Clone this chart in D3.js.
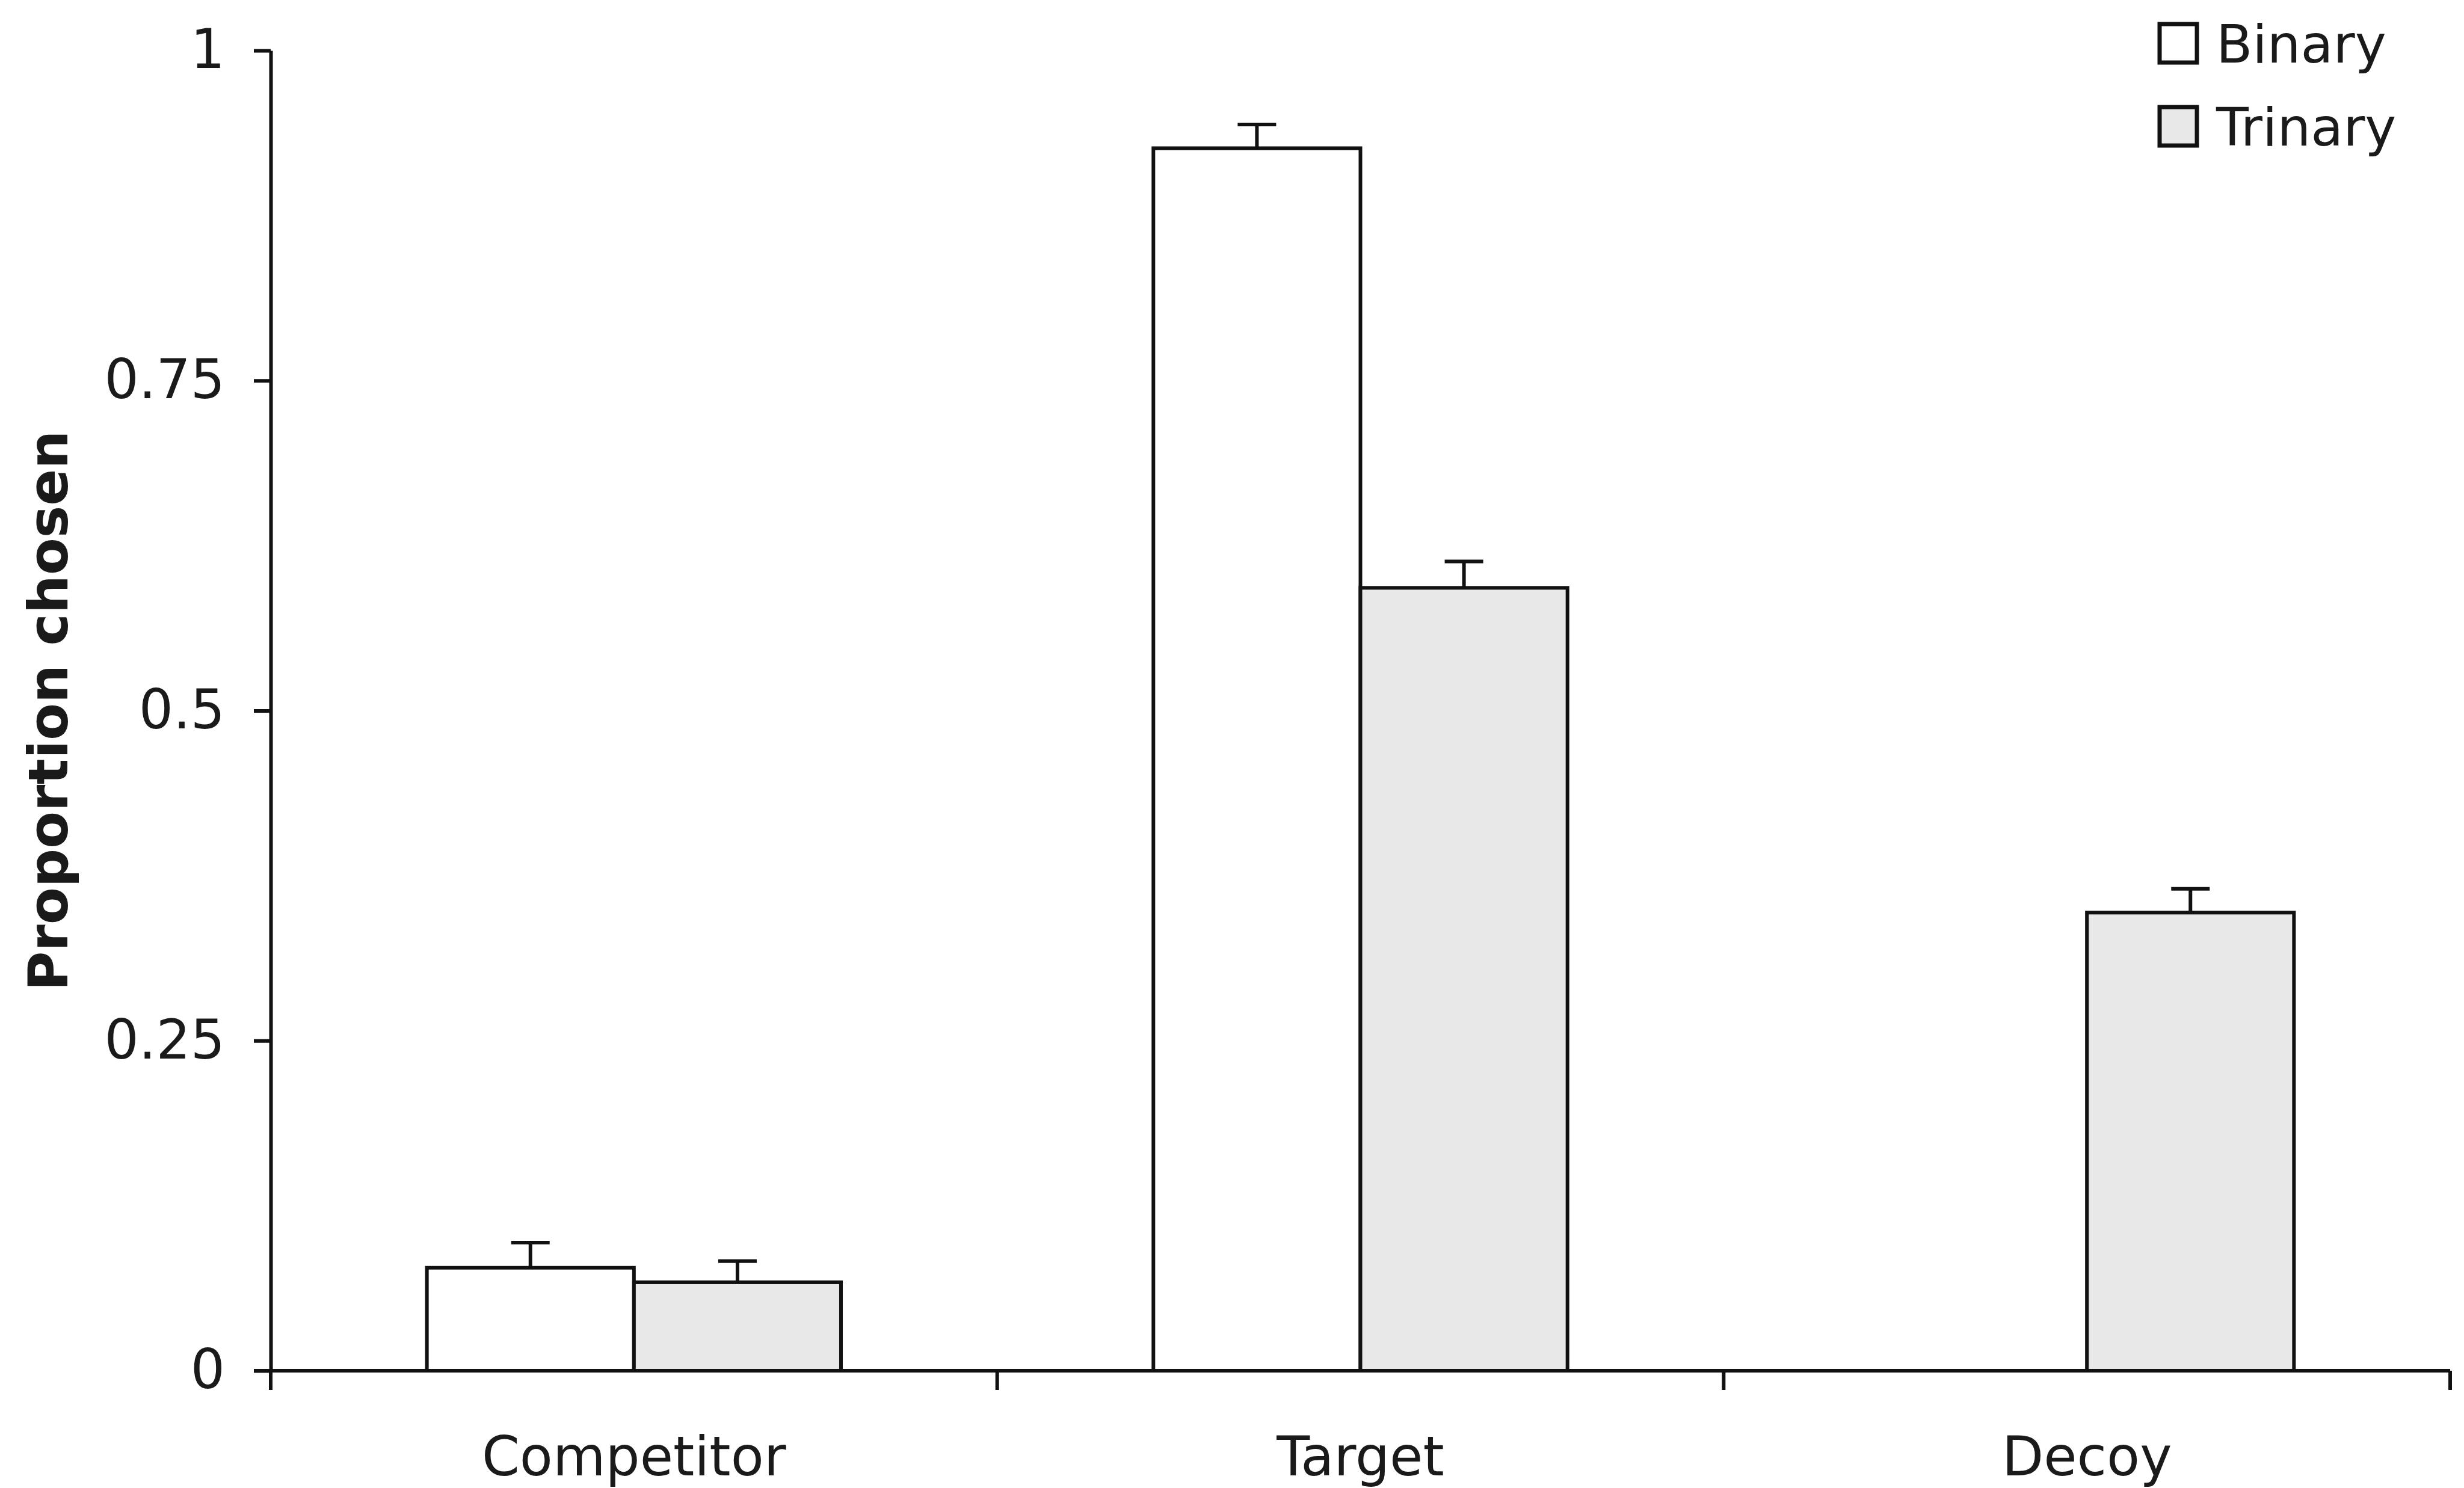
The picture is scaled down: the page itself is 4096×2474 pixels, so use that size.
<!DOCTYPE html>
<html>
<head>
<meta charset="utf-8">
<script src="https://cdn.jsdelivr.net/npm/d3@7"></script>
<style>
  body { margin: 0; background: #fff; }
  svg text { font-family: "DejaVu Sans", Verdana, sans-serif; fill: #1a1a1a; }
</style>
</head>
<body>
<svg id="chart" width="4096" height="2474"></svg>
<script>
// data
var categories = ["Competitor", "Target", "Decoy"];
var series = ["Binary", "Trinary"];
var binary = [0.078, 0.926, 0];
var trinary = [0.067, 0.593, 0.347];
var binaryErr = [0.019, 0.018, 0];
var trinaryErr = [0.016, 0.020, 0.018];
var yTicks = [0, 0.25, 0.5, 0.75, 1];
var yTickLabels = ["0", "0.25", "0.5", "0.75", "1"];
var fills = ["#ffffff", "#e8e8e8"];

var svg = d3.select("#chart");
var W = 4096, H = 2474;
var axis_x = 450, x_right = 4073,
    y_top = 84, y_bottom = 2279,
    stroke = "#111", lw = 6;

svg.append("rect").attr("width", W).attr("height", H).attr("fill", "#fff");

// scales
var x0 = d3.scaleBand()
  .domain(categories)
  .range([axis_x, x_right])
  .paddingInner(0.43)
  .paddingOuter(0.215);
var x1 = d3.scaleBand()
  .domain(series)
  .range([0, x0.bandwidth()]);
var y = d3.scaleLinear()
  .domain([0, 1])
  .range([y_bottom, y_top]);

var rows = categories.map(function(c, i) {
  return {cat: c, vals: [
    {s: "Binary", v: binary[i], e: binaryErr[i]},
    {s: "Trinary", v: trinary[i], e: trinaryErr[i]}
  ]};
});

// bars
var groups = svg.append("g").selectAll("g")
  .data(rows)
  .enter().append("g")
  .attr("transform", function(d) { return "translate(" + x0(d.cat) + ",0)"; });

groups.selectAll("rect")
  .data(function(d) { return d.vals.filter(function(v) { return v.v > 0; }); })
  .enter().append("rect")
  .attr("x", function(d) { return x1(d.s); })
  .attr("y", function(d) { return y(d.v); })
  .attr("width", x1.bandwidth())
  .attr("height", function(d) { return y(0) - y(d.v); })
  .attr("fill", function(d) { return fills[series.indexOf(d.s)]; })
  .attr("stroke", stroke)
  .attr("stroke-width", lw);

// error bars (upper half only)
var capW = 64;
var errs = groups.selectAll("g.err")
  .data(function(d) { return d.vals.filter(function(v) { return v.v > 0; }); })
  .enter().append("g").classed("err", true);
errs.append("line")
  .attr("x1", function(d) { return x1(d.s) + x1.bandwidth() / 2; })
  .attr("x2", function(d) { return x1(d.s) + x1.bandwidth() / 2; })
  .attr("y1", function(d) { return y(d.v); })
  .attr("y2", function(d) { return y(d.v + d.e); })
  .attr("stroke", stroke).attr("stroke-width", lw);
errs.append("line")
  .attr("x1", function(d) { return x1(d.s) + x1.bandwidth() / 2 - capW / 2; })
  .attr("x2", function(d) { return x1(d.s) + x1.bandwidth() / 2 + capW / 2; })
  .attr("y1", function(d) { return y(d.v + d.e); })
  .attr("y2", function(d) { return y(d.v + d.e); })
  .attr("stroke", stroke).attr("stroke-width", lw);

// y axis
var yAxis = svg.append("g")
  .attr("transform", "translate(" + axis_x + ",0)")
  .call(d3.axisLeft(y).tickValues(yTicks)
    .tickFormat(function(d, i) { return yTickLabels[i]; })
    .tickSize(28).tickSizeOuter(0).tickPadding(48));
yAxis.selectAll("path, line").attr("stroke", stroke).attr("stroke-width", lw);
yAxis.selectAll("text")
  .style("font-family", "'DejaVu Sans', Verdana, sans-serif")
  .style("font-size", "90px").attr("fill", "#1a1a1a");

// x axis: line, boundary ticks, centred labels
var xAxis = svg.append("g")
  .attr("transform", "translate(0," + y_bottom + ")")
  .call(d3.axisBottom(x0).tickSize(0).tickSizeOuter(0));
xAxis.select(".domain")
  .attr("d", "M" + (axis_x - 28) + ",0H" + x_right)
  .attr("stroke", stroke).attr("stroke-width", lw);
xAxis.selectAll("text")
  .attr("y", 174).attr("dy", 0)
  .style("font-family", "'DejaVu Sans', Verdana, sans-serif")
  .style("font-size", "90px").attr("fill", "#1a1a1a");

var bounds = [axis_x].concat(categories.map(function(c) {
  return x0(c) - x0.step() * x0.paddingOuter() + x0.step();
}));
xAxis.selectAll("line.bound")
  .data(bounds)
  .enter().append("line").classed("bound", true)
  .attr("x1", function(d) { return d; })
  .attr("x2", function(d) { return d; })
  .attr("y1", 0).attr("y2", 32)
  .attr("stroke", stroke).attr("stroke-width", lw);

// y axis title
svg.append("text")
  .attr("transform", "translate(112," + ((y_top + y_bottom) / 2) + ") rotate(-90)")
  .attr("text-anchor", "middle")
  .style("font-size", "90px")
  .style("font-weight", "bold")
  .text("Proportion chosen");

// legend
var legend = svg.append("g").attr("transform", "translate(3590,40)");
var leg = legend.selectAll("g")
  .data(series)
  .enter().append("g")
  .attr("transform", function(d, i) { return "translate(0," + (i * 138) + ")"; });
leg.append("rect")
  .attr("width", 62).attr("height", 64)
  .attr("fill", function(d, i) { return fills[i]; })
  .attr("stroke", stroke).attr("stroke-width", 7);
leg.append("text")
  .attr("x", 94).attr("y", 64)
  .style("font-size", "88px")
  .text(function(d) { return d; });
</script>
</body>
</html>
